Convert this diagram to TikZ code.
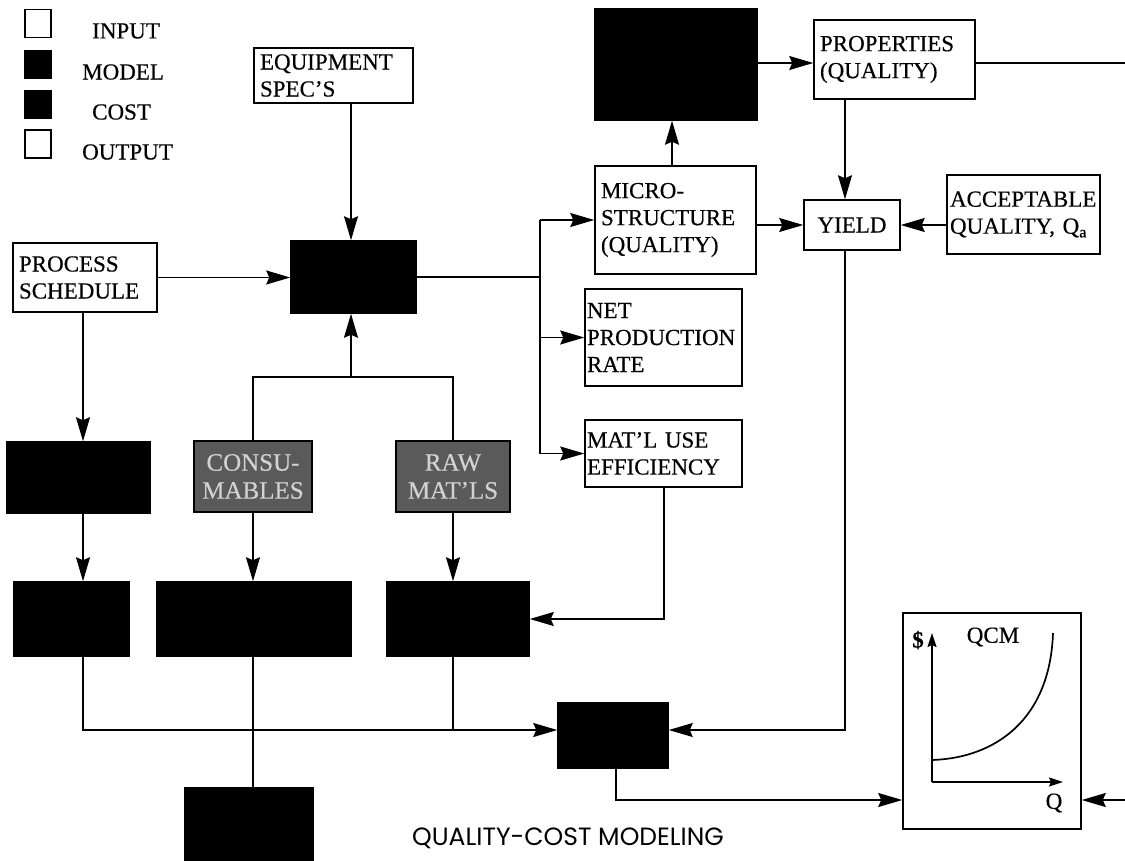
\documentclass[tikz,border=0pt]{standalone}
\usepackage{fontspec}
\setmainfont[FakeBold=0.35]{Liberation Serif}
\newfontfamily\titlefont{Poppins}
\usetikzlibrary{arrows.meta,calc}
\definecolor{graybox}{HTML}{5A5A5A}
\definecolor{graytext}{HTML}{D2D2D2}
\begin{document}
\begin{tikzpicture}[x=1pt,y=-1pt,
  every node/.style={font=\fontsize{23}{27}\selectfont},
  box/.style={draw=black, line width=1.5pt, fill=white, inner sep=0pt, align=left},
  blk/.style={draw=black, line width=1.5pt, fill=black, inner sep=0pt},
  gry/.style={draw=black, line width=1.5pt, fill=graybox, text=graytext, inner sep=0pt, align=center, font=\fontsize{25}{28}\selectfont},
  lbl/.style={anchor=west, inner sep=0pt},
  arr/.style={-{Stealth[length=24pt,width=14pt,inset=3pt]}, line width=1.5pt},
  sarr/.style={-{Stealth[length=14pt,width=9pt,inset=2pt]}, line width=1.5pt},
  ln/.style={line width=1.5pt},
]
\useasboundingbox (0,0) rectangle (1125,860);

% legend
\node[box, minimum width=26, minimum height=28] (lin) at (38,23.5) {};
\node[blk, minimum width=26, minimum height=28] (lmo) at (38,64.5) {};
\node[blk, minimum width=26, minimum height=28] (lco) at (38,104.5) {};
\node[box, minimum width=26, minimum height=28] (lou) at (38,144) {};
\node[lbl] (tin) at (92,31) {INPUT};
\node[lbl] (tmo) at (82,72) {MODEL};
\node[lbl] (tco) at (92,112) {COST};
\node[lbl] (tou) at (82,152) {OUTPUT};

% left / centre
\node[box, minimum width=159, minimum height=55, text width=147] (eq) at (333.5,75.5) {EQUIPMENT\\SPEC'S};
\node[blk, minimum width=125, minimum height=72] (model) at (353.5,277) {};
\node[box, minimum width=144, minimum height=69, text width=132] (ps) at (85,277.5) {PROCESS\\SCHEDULE};
\node[blk, minimum width=143, minimum height=71] (lab1) at (78.5,477.5) {};
\node[gry, minimum width=118, minimum height=71] (cons) at (253,476.5) {CONSU-\\MABLES};
\node[gry, minimum width=114, minimum height=71] (raw) at (453,476.5) {RAW\\MAT'LS};
\node[blk, minimum width=115, minimum height=74] (b1) at (71.5,619) {};
\node[blk, minimum width=194, minimum height=74] (b2) at (254,619) {};
\node[blk, minimum width=142, minimum height=74] (b3) at (458,619) {};
\node[blk, minimum width=128, minimum height=72] (bb) at (249,824) {};
\node[blk, minimum width=110, minimum height=65] (cost) at (613,735.5) {};

% right side
\node[blk, minimum width=162, minimum height=111] (mm) at (676,64.5) {};
\node[box, minimum width=161, minimum height=79, text width=149] (prop) at (894.5,59.5) {PROPERTIES\\(QUALITY)};
\node[box, minimum width=161, minimum height=108, text width=149] (micro) at (675.5,220) {MICRO-\\STRUCTURE\\(QUALITY)};
\node[box, minimum width=96, minimum height=50, align=center] (yield) at (852,225) {YIELD};
\node[box, minimum width=153, minimum height=79, text width=147] (acc) at (1023.5,214.5) {ACCEPTABLE\\QUALITY, Q\textsubscript{a}};
\node[box, minimum width=157, minimum height=97, text width=153] (net) at (663.5,337.5) {NET\\PRODUCTION\\RATE};
\node[box, minimum width=157, minimum height=67, text width=153] (mat) at (663.5,453.5) {MAT'L USE\\EFFICIENCY};
\node[box, minimum width=178, minimum height=216] (qcm) at (992,721) {};

% helper coordinates
\coordinate (cx) at (351,0);
\coordinate (bar) at (351,377);
\coordinate (c1) at (83,0);
\coordinate (hy) at (0,730);
\coordinate (cm) at (664,0);
\coordinate (cy) at (845,0);
\coordinate (cu) at (672,0);
\coordinate (py) at (0,63);
\coordinate (vx) at (540,0);
\coordinate (cq) at (616,0);
\coordinate (qy) at (0,800);
\coordinate (rightA) at (1125,63);
\coordinate (rightB) at (1125,800);

% connectors
\draw[arr] (eq.south -| cx) -- (model.north -| cx);
\draw[arr] (ps.east) -- (model.west |- ps.east);
\draw[arr] (bar) -- (model.south -| bar);
\draw[ln] (cons.north) |- (raw.north |- bar) -- (raw.north);
\draw[arr] (ps.south -| c1) -- (lab1.north -| c1);
\draw[arr] (lab1.south -| c1) -- (b1.north -| c1);
\draw[arr] (cons.south) -- (b2.north -| cons.south);
\draw[arr] (raw.south) -- (b3.north -| raw.south);
\draw[arr] (b1.south -| c1) |- (cost.west |- hy);
\draw[ln] (b3.south -| raw.south) -- (raw.south |- hy);
\draw[ln] (b2.south -| cons.south) -- (bb.north -| cons.south);
\draw[arr] (mat.south -| cm) |- (b3.east);
\draw[ln] (model.east) -- (vx |- model.east);
\draw[ln] (vx |- micro.west) -- (vx |- mat.west);
\draw[arr] (vx |- micro.west) -- (micro.west);
\draw[arr] (vx |- net.west) -- (net.west);
\draw[arr] (vx |- mat.west) -- (mat.west);
\draw[arr] (micro.north -| cu) -- (mm.south -| cu);
\draw[arr] (mm.east |- py) -- (prop.west |- py);
\draw[ln] (prop.east |- py) -- (rightA);
\draw[arr] (prop.south -| cy) -- (yield.north -| cy);
\draw[arr] (micro.east |- yield.west) -- (yield.west);
\draw[arr] (acc.west |- yield.east) -- (yield.east);
\draw[arr] (yield.south -| cy) |- (cost.east |- hy);
\draw[arr] (cost.south -| cq) |- (qcm.west |- qy);
\draw[arr] (rightB) -- (qcm.east |- rightB);

% QCM graph
\coordinate (org) at (932,782);
\coordinate (ytop) at (932,633);
\coordinate (xend) at (1063,782);
\draw[sarr] (org) -- (ytop);
\draw[sarr] (org) -- (xend);
\draw[line width=1.7pt] (932,760) .. controls (995,758) and (1050,720) .. (1053,633);
\node[inner sep=0pt] (dol) at (918,640) {\textbf{\$}};
\node[inner sep=0pt] (qcmt) at (993,637) {QCM};
\node[inner sep=0pt] (qlab) at (1054,803) {Q};

% title
\node[font=\titlefont\fontsize{25}{28}\selectfont, inner sep=0pt] (title) at (568,838) {QUALITY-COST MODELING};
\end{tikzpicture}
\end{document}
